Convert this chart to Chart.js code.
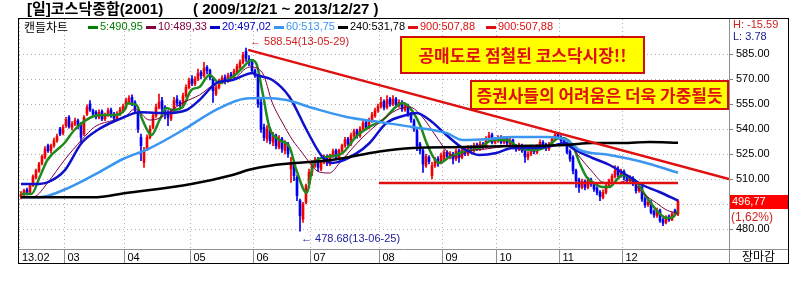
<!DOCTYPE html>
<html lang="ko">
<head>
<meta charset="UTF-8">
<title>코스닥종합</title>
<style>
  body { margin: 0; background: #fff; }
  #wrap { width: 809px; height: 284px; }
</style>
</head>
<body>
<div id="wrap"><canvas id="kosdaq" width="809" height="284"></canvas></div>
<script src="https://cdn.jsdelivr.net/npm/chart.js"></script>
<script>
// daily candles, 2013-02-07 .. 2013-12-27 (one row per month)
const opens = [
  499.0,501.0,503.5,502.0,506.0,511.0,515.0,519.5,523.0,530.0,527.0,530.0,533.0,540.0,537.5,
  542.0,547.0,541.0,543.0,545.0,543.0,537.0,549.0,555.0,551.0,550.0,547.0,550.5,546.0,548.0,551.5,549.0,546.0,549.0,551.0,
  553.0,556.5,559.0,556.0,550.0,535.0,520.0,528.0,535.0,541.0,548.0,553.0,557.0,553.0,550.0,546.0,551.0,558.0,556.0,554.0,560.0,565.0,
  570.0,567.0,570.0,574.0,572.0,577.0,575.0,570.0,561.0,565.0,568.0,571.0,569.0,573.0,571.0,574.0,577.0,580.0,586.5,582.0,580.0,
  575.0,572.0,556.0,541.0,534.0,540.0,532.0,536.0,529.0,534.0,527.0,531.0,516.0,519.0,511.0,497.0,486.0,496.0,507.0,
  514.0,518.0,522.0,516.0,520.0,523.5,519.0,524.0,527.0,523.0,527.0,530.0,534.0,531.0,536.0,539.0,536.0,540.0,544.0,541.0,545.0,548.0,551.0,
  553.5,556.5,553.0,558.0,555.0,558.0,554.0,556.0,551.5,554.0,549.0,545.0,539.0,531.0,527.0,518.0,523.0,512.0,518.0,522.0,520.0,
  522.0,526.0,523.0,525.0,522.0,527.0,523.0,528.0,525.0,529.0,527.0,530.5,528.0,531.0,529.0,534.0,536.5,532.0,
  533.0,535.0,532.0,534.5,531.0,533.5,529.5,527.5,530.0,527.5,523.0,525.0,528.5,526.0,529.0,532.0,530.5,528.0,531.0,534.0,537.0,
  535.0,533.5,531.0,526.5,523.0,515.0,509.5,505.0,508.5,505.0,509.5,507.0,504.5,502.0,499.0,502.0,506.0,509.0,511.5,516.0,512.0,
  514.5,511.5,509.0,510.5,507.0,503.0,505.0,498.0,494.5,496.0,490.5,488.0,491.0,485.5,484.0,487.5,485.5,491.0,489.0
];
const highs = [
  502.5,504.0,504.5,507.0,512.5,516.0,520.0,524.5,529.5,531.0,531.0,534.5,537.0,541.0,542.5,
  547.0,548.0,544.5,546.5,546.0,544.0,548.0,554.5,557.0,552.0,551.0,551.5,551.5,549.5,552.5,552.5,550.0,550.5,553.0,555.0,
  558.5,560.0,560.5,557.0,551.0,537.0,529.0,536.5,542.0,549.5,555.0,561.0,559.0,554.0,551.0,552.0,559.0,560.0,557.0,561.5,566.5,570.5,
  572.0,571.5,576.0,575.0,580.0,578.0,576.0,571.0,566.5,570.0,572.0,572.5,573.5,574.0,576.0,579.0,581.5,586.0,588.54,584.0,581.0,
  576.0,573.0,558.0,543.0,542.0,541.0,538.0,537.0,536.0,535.0,533.0,532.0,523.0,520.0,512.0,498.0,496.0,507.0,516.0,
  521.0,523.0,523.0,521.0,524.5,524.5,525.0,528.0,528.0,528.0,531.0,535.0,535.0,537.5,540.0,540.0,541.5,545.0,545.0,546.5,550.0,552.5,555.0,
  559.0,557.5,560.0,559.0,560.0,559.0,557.5,557.0,555.5,555.0,550.0,546.0,540.0,532.0,528.0,525.0,524.0,520.0,523.0,523.5,525.5,
  527.5,527.0,526.5,526.0,528.0,528.0,529.0,529.0,530.0,530.0,531.5,531.5,532.5,532.0,535.5,538.0,537.5,535.0,
  536.0,536.0,535.5,535.0,534.5,534.0,530.5,531.5,531.0,528.5,526.5,529.5,529.5,530.5,533.5,533.0,531.5,532.0,535.5,538.0,538.0,
  536.0,535.0,532.0,527.5,524.0,516.0,510.5,510.0,509.5,511.0,510.5,508.0,505.5,503.0,503.5,507.0,510.0,513.0,518.0,517.5,516.0,
  515.5,512.5,512.0,511.5,508.0,507.0,506.0,499.5,497.5,497.0,491.5,492.5,492.0,486.5,488.0,488.5,490.0,492.0,497.5
];
const lows = [
  498.0,500.0,500.5,501.5,505.5,510.0,514.0,518.5,522.0,526.0,525.5,529.0,532.0,536.0,536.5,
  541.0,540.5,539.5,542.0,540.0,532.0,536.0,548.0,550.5,548.0,546.0,546.0,545.0,545.0,547.5,547.0,545.0,545.0,548.0,550.0,
  552.0,555.0,554.0,550.0,538.0,521.0,517.0,527.0,534.0,540.0,547.0,552.0,550.0,546.0,542.0,545.0,550.0,554.0,552.0,553.0,559.0,564.0,
  566.0,566.0,569.0,570.0,571.0,573.0,569.5,556.0,560.0,564.0,567.0,567.0,568.0,569.0,570.0,573.0,576.0,579.0,580.5,578.0,573.0,
  571.0,553.0,538.0,533.0,532.0,531.0,530.0,528.0,528.0,526.0,525.0,523.0,508.0,509.0,497.0,478.68,484.0,495.0,506.0,
  512.0,517.0,515.0,515.0,519.0,518.0,518.0,523.0,521.5,522.0,526.0,529.0,529.5,530.0,535.0,534.5,535.0,539.0,539.5,540.0,544.0,547.0,550.0,
  552.5,551.5,552.0,553.5,554.0,553.0,553.0,550.5,550.5,547.5,544.0,538.5,527.0,525.0,514.0,517.0,519.0,510.0,517.0,517.5,519.0,
  521.0,522.0,522.0,519.0,521.0,520.0,522.0,524.0,524.0,525.5,526.0,527.0,527.0,528.0,528.5,533.0,531.0,531.0,
  532.0,531.0,531.0,530.5,530.0,528.0,526.5,527.0,526.0,520.0,521.5,524.0,525.0,525.0,528.0,529.0,527.0,527.0,530.0,533.0,534.0,
  531.5,530.0,525.0,520.5,513.0,505.0,502.0,504.0,503.5,504.0,505.5,502.5,500.5,497.0,498.0,501.0,505.0,508.0,510.5,511.0,511.0,
  509.5,507.5,508.0,506.0,501.5,502.0,496.5,493.0,493.5,489.0,487.0,487.0,484.0,482.0,483.0,484.5,485.0,488.0,488.0
];
const closes = [
  501.0,503.0,502.0,506.0,511.5,515.0,519.0,523.5,528.0,527.0,530.0,533.0,535.5,537.0,541.0,
  545.5,541.5,543.0,545.0,541.0,535.0,547.0,553.0,551.5,549.0,547.5,550.0,546.0,548.5,551.0,548.0,546.5,549.0,551.5,553.5,
  557.0,558.5,555.0,551.0,540.0,530.0,527.0,535.0,540.0,548.0,553.0,556.0,552.0,549.0,547.0,551.0,557.0,555.5,554.0,560.0,565.0,569.0,
  567.5,570.0,573.5,572.0,576.5,575.0,571.0,563.0,565.0,568.5,570.5,569.0,572.0,571.0,574.5,577.5,580.0,584.5,582.5,580.0,575.0,
  572.5,555.0,540.0,535.0,540.0,533.0,536.0,530.0,534.0,528.0,531.0,525.0,520.0,512.0,500.0,488.0,495.0,506.0,514.0,
  518.0,521.5,517.0,520.0,523.0,519.5,524.0,526.5,523.0,527.0,530.0,533.5,531.0,536.0,538.5,536.0,540.0,543.5,541.0,545.0,548.5,551.0,553.5,
  556.0,553.0,557.5,555.0,558.0,554.5,556.0,552.0,554.0,549.0,545.5,540.0,530.0,527.0,519.0,523.5,520.5,518.0,522.0,519.5,524.0,
  526.0,523.5,525.0,522.0,526.5,523.0,527.5,525.5,528.5,527.0,530.0,528.0,531.0,529.5,534.0,536.0,532.0,533.5,
  534.5,532.0,534.0,531.5,533.0,529.0,528.0,530.0,527.0,523.5,525.0,528.0,526.5,529.0,532.0,530.5,528.5,531.0,534.0,536.5,535.0,
  533.0,531.5,526.0,522.0,515.0,509.0,505.0,508.5,505.0,509.5,507.0,504.0,502.0,499.5,502.0,506.0,509.0,511.5,515.0,512.5,514.0,
  511.0,509.0,510.5,507.0,503.0,505.5,498.0,494.5,496.0,490.0,488.5,491.5,485.0,483.5,487.0,485.5,489.0,488.85,496.77
];

// moving averages: [trading day, value]
const ma5 = [[0,501],[3.5,501],[6.2,511],[8.8,521.4],[14.5,531.6],[17.8,539.4],[23.5,547.2],[26.8,548.4],[31.2,548.4],[34.5,551.4],[35.5,555.5],[38.5,554.4],[40.5,545.4],[43.5,536.4],[46.2,545.4],[48.5,552.6],[50.5,551.4],[53.8,553],[56.8,563.4],[59.5,565.2],[62.8,572.4],[66.2,567.6],[70.5,571.2],[73.8,576.6],[76.8,581.4],[78.5,579],[80.5,562],[82.8,541],[86.2,533.4],[89.5,529.2],[91.8,515.4],[95.2,501.8],[97.6,519.6],[101.8,523.2],[107.2,525.6],[111.7,535.4],[116.2,541.4],[120.6,545.4],[125,553.4],[127.2,555.6],[129.5,553],[133,542.4],[135.2,531.6],[137.5,523],[139.5,519.6],[142.8,523.2],[147.2,526.2],[152.8,528.6],[157.2,533.4],[161.8,533.4],[166.2,528.6],[170.5,527.4],[175.2,529.2],[179.5,534.6],[183.8,530.5],[186.2,519.6],[188.5,511.2],[190.5,508.2],[193.8,505.2],[196.2,505.2],[198.5,509.4],[200.5,512.4],[202.8,511],[205.2,508.2],[208.5,499.2],[211.8,491.4],[215.2,486.6],[217.2,487],[219,490.95]];
const ma10 = [[0,499],[4.5,499.5],[8.8,507.6],[14.5,521.4],[20.2,533.4],[24.5,541.2],[31.2,545.4],[34.5,547.2],[38,552],[42.8,545.4],[46.2,546.5],[53.8,555.6],[59.5,560.4],[65.2,567.6],[70.5,569.4],[76.2,577.2],[80.5,573.6],[83.8,555.6],[87.2,543.6],[90.5,533.4],[93.8,525.6],[96.5,519],[99,514.5],[102.8,513.6],[106.2,519.6],[110,527.5],[113.9,535],[119.5,544],[125.2,551.4],[129.5,553.2],[133.8,547.2],[138.5,535.2],[142.8,525],[145.8,523.2],[148.2,526.2],[155,528],[165,530],[175,529.5],[181.8,531.6],[183.5,529.2],[186.2,523.2],[190.5,514.2],[193.8,508.2],[198.5,507.6],[202.8,509.4],[207.2,501.6],[211.8,495.6],[215.2,491.4],[219,489.33]];
const ma20 = [[0,507],[4.5,507],[8.8,508],[14.5,515],[20.2,531.6],[25.5,539.4],[34.5,547.2],[39.5,550],[48.5,549.6],[55.2,551.4],[59.5,557.4],[65.2,567.6],[70.5,569.4],[77.2,573.6],[78.5,572.4],[83.8,569.4],[89.5,559.2],[95.2,539.4],[100.5,523.2],[103.8,519.6],[111.8,525.4],[116.2,531.6],[121.8,543.6],[128.5,548.4],[131.8,549.6],[136.2,545.4],[141.8,536.4],[147.2,528.6],[152.8,524.4],[158.5,525.6],[163.8,528.6],[169.5,528.6],[175.2,529.2],[181.8,531.6],[183.2,529.2],[190.5,522.6],[196.2,518.4],[201.8,512.4],[207.2,506.4],[212.8,502.2],[219,497.02]];
const ma60 = [[0,499],[6,499],[15,504],[26,514],[34,522],[43,528.5],[55,540.5],[65,551.5],[75,558.3],[81,558.6],[88.5,557.4],[97.2,552.6],[108.5,547.2],[119.5,544.2],[130.5,541.2],[141.8,537.6],[147.2,533.4],[156.2,534],[163.8,535.2],[175.2,535.2],[181.8,533.4],[186.2,527.4],[196.2,524.4],[207.2,520.2],[219,513.75]];
const ma240 = [[0,499],[24,499],[35,501.6],[56.8,507],[70.5,512.4],[76,515.5],[83,518],[104,521.5],[119.5,526.5],[130.5,528.6],[147.2,529.2],[163.8,529.8],[181.8,530.4],[190.5,531.6],[200.5,531.6],[209.5,532.2],[219,531.78]];

// drawn trend lines
const trendLine = [[75.7,587.5],[236,510]];
const supportLine = [[119.3,507.6],[219,507.6]];

// axis ticks
const monthTicks = [-0.6667, 14.5, 34.5, 56.5, 77.5, 96.5, 119.5, 140.5, 158.5, 179.5, 200.5];
const monthLabels = ['13.02', '03', '04', '05', '06', '07', '08', '09', '10', '11', '12'];
const priceTicks = [480, 495, 510, 525, 540, 555, 570, 585];

// texts
const titleName = '[일]코스닥종합(2001)';
const titlePeriod = '( 2009/12/21 ~ 2013/12/27 )';
const legendLabels = ['5:490,95', '10:489,33', '20:497,02', '60:513,75', '240:531,78', '900:507,88', '900:507,88'];
const legendColors = ['#008000', '#800040', '#0000cc', '#3a96f0', '#000000', '#e01010', '#e01010'];
const legendX = [88, 146, 210, 274, 338, 408, 486];
const notes = ['공매도로 점철된 코스닥시장!!', '증권사들의 어려움은 더욱 가중될듯'];
const noteBoxes = [{x: 400, y: 36, w: 245, h: 38}, {x: 470, y: 80, w: 259, h: 30}];
const peakDay = 75, peakPrice = 588.54, peakLabel = '\u2190 588.54(13-05-29)';
const lowDay = 93, lowPrice = 478.68, lowLabel = '\u2190 478.68(13-06-25)';
const lastPrice = '496,77', lastChange = '(1,62%)';
const highLow = ['H: -15.59', 'L: 3.78'];

const numFont = '11px "Liberation Sans", "Noto Sans CJK KR"';
const krFont = '12px "Noto Sans CJK KR"';
const upColor = '#f00000';
const downColor = '#0000f0';

const days = closes.map((c, i) => i);
const candleColors = days.map(i => closes[i] >= opens[i] ? upColor : downColor);
const toPoints = arr => arr.map(p => ({x: p[0], y: p[1]}));

function maLine(data, color, width) {
  return {
    type: 'line',
    data: toPoints(data),
    borderColor: color,
    borderWidth: width,
    pointRadius: 0,
    cubicInterpolationMode: 'monotone',
    order: 5
  };
}

const overlay = {
  id: 'overlay',
  beforeDraw(chart) {
    const ctx = chart.ctx;
    ctx.save();
    ctx.fillStyle = '#ffffff';
    ctx.fillRect(0, 0, chart.width, chart.height);
    ctx.restore();
  },
  afterDatasetsDraw(chart) {
    const {ctx, scales: {x, y}} = chart;
    ctx.save();
    ctx.font = numFont;
    ctx.textBaseline = 'middle';
    ctx.fillStyle = '#d02020';
    ctx.fillText(peakLabel, x.getPixelForValue(peakDay) + 4, y.getPixelForValue(peakPrice) - 6);
    ctx.fillStyle = '#2020a0';
    ctx.fillText(lowLabel, x.getPixelForValue(lowDay) + 1, y.getPixelForValue(lowPrice) + 8);

    // yellow message boxes
    ctx.font = 'bold 17px "Noto Sans CJK KR"';
    ctx.textAlign = 'center';
    notes.forEach((t, i) => {
      const b = noteBoxes[i];
      ctx.fillStyle = '#ffff00';
      ctx.fillRect(b.x, b.y, b.w, b.h);
      ctx.strokeStyle = '#d01010';
      ctx.lineWidth = 2;
      ctx.strokeRect(b.x + 1, b.y + 1, b.w - 2, b.h - 2);
      ctx.fillStyle = '#e01010';
      ctx.fillText(t, b.x + b.w / 2, b.y + b.h / 2 + 1);
    });
    ctx.restore();
  },
  afterDraw(chart) {
    const {ctx, scales: {x}} = chart;
    ctx.save();
    // frame and separators
    ctx.lineWidth = 1;
    ctx.strokeStyle = '#909090';
    ctx.beginPath();
    ctx.moveTo(729.5, 19); ctx.lineTo(729.5, 263);
    ctx.moveTo(19, 249.5); ctx.lineTo(788, 249.5);
    monthTicks.slice(1).forEach(t => {
      const px = Math.round(x.getPixelForValue(t) - 0.5) + 0.5;
      ctx.moveTo(px, 250); ctx.lineTo(px, 263);
    });
    ctx.stroke();
    ctx.strokeStyle = '#000000';
    ctx.strokeRect(18.5, 18.5, 770, 245);

    // title
    ctx.textBaseline = 'middle';
    ctx.fillStyle = '#000000';
    ctx.font = 'bold 15px "Liberation Sans", "Noto Sans CJK KR"';
    ctx.fillText(titleName, 27, 10);
    ctx.fillText(titlePeriod, 193, 10);

    // legend row
    ctx.font = krFont;
    ctx.fillText('캔들차트', 24, 27);
    ctx.font = numFont;
    legendLabels.forEach((t, i) => {
      ctx.fillStyle = legendColors[i];
      ctx.fillRect(legendX[i], 26, 10, 3);
      ctx.fillText(t, legendX[i] + 12, 27);
    });

    // right panel
    ctx.fillStyle = '#d02020';
    ctx.fillText(highLow[0], 733, 25);
    ctx.fillStyle = '#202090';
    ctx.fillText(highLow[1], 733, 37);
    ctx.fillStyle = '#ff0000';
    ctx.fillRect(730, 195, 58, 14);
    ctx.fillStyle = '#ffffff';
    ctx.fillText(lastPrice, 732, 202);
    ctx.fillStyle = '#d02020';
    ctx.font = '12px "Liberation Sans"';
    ctx.fillText(lastChange, 731, 218);
    ctx.fillStyle = '#000000';
    ctx.font = krFont;
    ctx.fillText('장마감', 742, 256);
    ctx.restore();
  }
};

new Chart(document.getElementById('kosdaq'), {
  type: 'bar',
  data: {
    datasets: [
      {
        label: 'wick',
        data: days.map(i => ({x: i, y: [lows[i], highs[i]]})),
        backgroundColor: candleColors,
        barThickness: 1,
        grouped: false,
        order: 10
      },
      {
        label: 'body',
        data: days.map(i => ({x: i, y: [opens[i], closes[i]]})),
        backgroundColor: candleColors,
        barThickness: 2,
        grouped: false,
        order: 9
      },
      maLine(ma240, '#000000', 2.5),
      maLine(ma60, '#3a96f0', 2.5),
      maLine(ma20, '#1010cc', 2.5),
      maLine(ma10, '#800040', 1),
      maLine(ma5, '#1e8a1e', 2.5),
      {
        type: 'line', data: toPoints(trendLine), borderColor: '#e01010',
        borderWidth: 2.5, pointRadius: 0, order: 1
      },
      {
        type: 'line', data: toPoints(supportLine), borderColor: '#e01010',
        borderWidth: 2.5, pointRadius: 0, order: 1
      }
    ]
  },
  options: {
    responsive: false,
    animation: false,
    layout: { padding: { left: 19, right: 21, top: 19, bottom: 22 } },
    plugins: { legend: { display: false }, tooltip: { enabled: false } },
    scales: {
      x: {
        type: 'linear',
        min: -0.6667,
        max: 236,
        offset: false,
        afterFit: s => { s.height = 13; },
        afterBuildTicks: s => { s.ticks = monthTicks.map(v => ({value: v})); },
        grid: { color: '#b0b0b0', drawTicks: false, offset: false },
        border: { display: false, dash: [1, 3] },
        ticks: {
          autoSkip: false, maxRotation: 0, align: 'start', labelOffset: 3, padding: 2,
          color: '#000', font: { family: '"Liberation Sans"', size: 11 },
          callback: (v, i) => monthLabels[i]
        }
      },
      y: {
        type: 'linear',
        position: 'right',
        min: 468,
        max: 606,
        beginAtZero: false,
        afterFit: s => { s.width = 59; },
        afterBuildTicks: s => { s.ticks = priceTicks.map(v => ({value: v})); },
        grid: { color: '#b0b0b0', tickLength: 4, tickColor: '#808080', tickBorderDash: [] },
        border: { display: false, dash: [1, 3] },
        ticks: {
          padding: 3, color: '#000', font: { family: '"Liberation Sans"', size: 11 },
          callback: v => v === 495 ? '' : v.toFixed(2)
        }
      }
    }
  },
  plugins: [overlay]
});
</script>
</body>
</html>
